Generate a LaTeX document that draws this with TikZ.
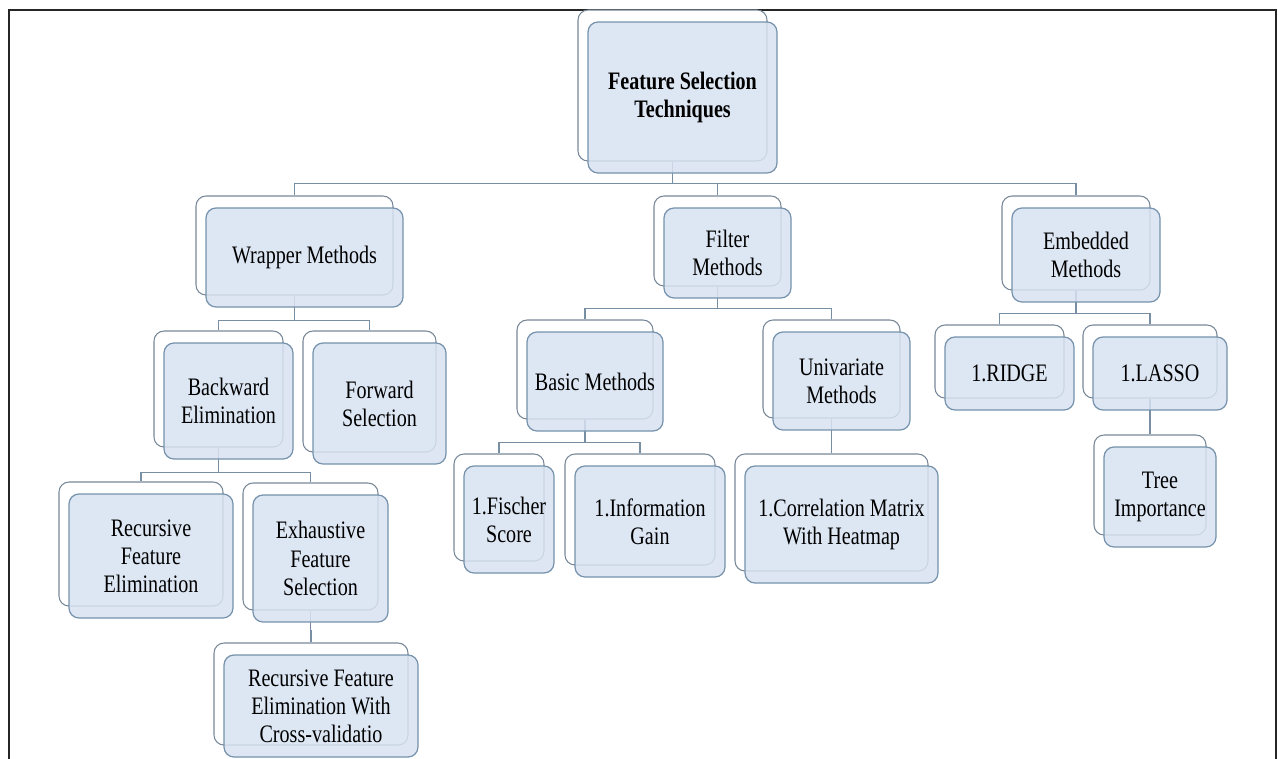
\documentclass[tikz,border=0pt]{standalone}
\usepackage{fontspec}
\setmainfont{Liberation Serif}[FakeStretch=0.8]
\usetikzlibrary{backgrounds}

\definecolor{boxfill}{RGB}{216,226,241}
\definecolor{frontline}{RGB}{118,146,172}
\definecolor{backline}{RGB}{120,136,152}
\definecolor{linkcol}{RGB}{120,142,162}

% name, centre x, centre y, width, height, text
\newcommand{\fsnode}[6]{%
  \node[backbox, minimum width=#4*0.2mm, minimum height=#5*0.2mm] (#1-b) at (#2-10,#3-12) {};
  \node[frontbox, minimum width=#4*0.2mm, minimum height=#5*0.2mm] (#1) at (#2,#3) {#6};
}

\begin{document}
\begin{tikzpicture}[
  x=0.2mm,
  y=-0.2mm,
  backbox/.style={draw=backline, fill=white, rounded corners=2mm, line width=0.6pt, inner sep=0pt},
  frontbox/.style={draw=frontline, fill=boxfill, fill opacity=0.85, text opacity=1, rounded corners=2mm,
    line width=0.7pt, inner sep=0pt, align=center, font=\fontsize{14.3}{16}\selectfont},
  link/.style={draw=linkcol, line width=0.7pt},
  frame/.style={draw=black!85, line width=1.6pt}
]
  \useasboundingbox (0,0) rectangle (1278,758);
  \clip (0,0) rectangle (1278,758);
  \draw[frame] (9,800) -- (9,10) -- (1276,10) -- (1276,800);

  \fsnode{root}{682.5}{97.5}{189}{151}{\textbf{Feature Selection}\\\textbf{Techniques}}
  \fsnode{wrap}{304.5}{257.5}{197}{99}{Wrapper Methods}
  \fsnode{filt}{727.5}{253}{127}{90}{Filter\\Methods}
  \fsnode{embd}{1086}{255}{148}{94}{Embedded\\Methods}
  \fsnode{bwd}{228.5}{401}{129}{116}{Backward\\Elimination}
  \fsnode{fwd}{379.5}{403.5}{133}{121}{Forward\\Selection}
  \fsnode{rfe}{151}{556}{164}{124}{Recursive\\Feature\\Elimination}
  \fsnode{efs}{320.5}{558.5}{135}{127}{Exhaustive\\Feature\\Selection}
  \fsnode{rfecv}{321}{706}{194}{102}{Recursive Feature\\Elimination With\\Cross-validatio}
  \fsnode{basic}{595}{381.5}{136}{99}{Basic Methods}
  \fsnode{univ}{841.5}{381}{137}{98}{Univariate\\Methods}
  \fsnode{fisch}{509}{519.5}{90}{107}{1.Fischer\\Score}
  \fsnode{info}{650}{521.5}{150}{111}{1.Information\\Gain}
  \fsnode{corr}{841.5}{524.5}{193}{117}{1.Correlation Matrix\\With Heatmap}
  \fsnode{ridge}{1009.5}{373.5}{129}{73}{1.RIDGE}
  \fsnode{lasso}{1160}{373.5}{134}{73}{1.LASSO}
  \fsnode{tree}{1160}{497}{112}{100}{Tree\\Importance}

  \begin{pgfonlayer}{background}
    \foreach \p/\c/\d in {root/wrap/22, root/filt/22, root/embd/22, wrap/bwd/25, wrap/fwd/25,
      bwd/rfe/25, bwd/efs/25, efs/rfecv/20, filt/basic/22, filt/univ/22, basic/fisch/23,
      basic/info/23, univ/corr/20, embd/ridge/23, embd/lasso/23, lasso/tree/20} {
      \draw[link] (\p-b.south) -- ++(0,\d) -| (\c-b.north);
    }
  \end{pgfonlayer}
\end{tikzpicture}
\end{document}
